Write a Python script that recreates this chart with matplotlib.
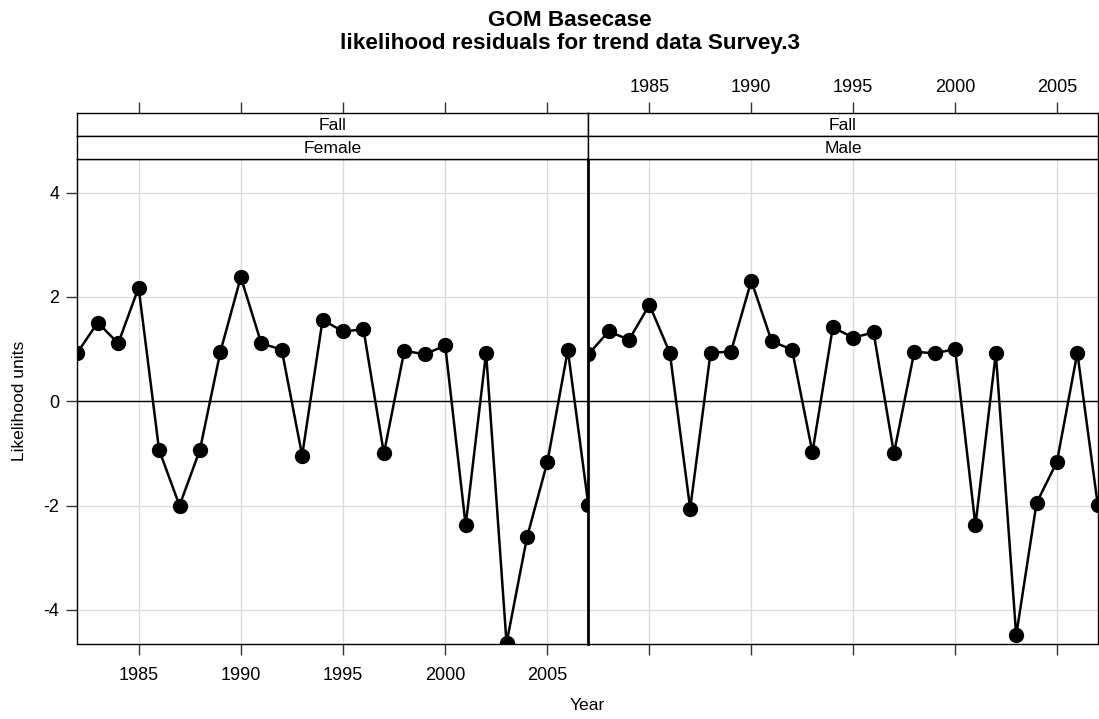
import matplotlib
matplotlib.use("Agg")
import matplotlib.pyplot as plt

plt.rcParams['font.family'] = ['Liberation Sans', 'DejaVu Sans']

years = list(range(1982, 2008))
female = [0.93, 1.51, 1.11, 2.18, -0.93, -2.00, -0.93, 0.95, 2.38, 1.11, 0.99, -1.04, 1.56,
          1.34, 1.38, -1.00, 0.97, 0.90, 1.07, -2.38, 0.93, -4.64, -2.61, -1.16, 0.98, -1.98]
male = [0.90, 1.34, 1.18, 1.85, 0.93, -2.06, 0.93, 0.95, 2.31, 1.15, 0.99, -0.98, 1.42,
        1.22, 1.32, -1.00, 0.95, 0.92, 1.00, -2.38, 0.92, -4.49, -1.95, -1.16, 0.93, -1.98]
panel_top = ["Fall", "Fall"]
panel_sex = ["Female", "Male"]
xticks = [1985, 1990, 1995, 2000, 2005]
yticks = [-4, -2, 0, 2, 4]

W, H = 1099, 719
fig = plt.figure(figsize=(W / 100, H / 100), dpi=100)

def fr(x0, y0, x1, y1):
    return [x0 / W, 1 - y1 / H, (x1 - x0) / W, (y1 - y0) / H]

panels = [(77.3, 588.3), (588.3, 1097.7)]
ptop, pbot = 159.3, 644.3
s1, s2 = 112.7, 135.7
grid_c = '#dcdcdc'
fs = 13
sfs = 12.6

for i, (x0, x1) in enumerate(panels):
    vals = female if i == 0 else male
    ax = fig.add_axes(fr(x0, ptop, x1, pbot))
    ax.set_xlim(1982, 2007)
    ax.set_ylim(-4.66, 4.64)
    for t in xticks:
        ax.axvline(t, color=grid_c, lw=1.0, zorder=0)
    for t in yticks:
        ax.axhline(t, color=grid_c, lw=1.0, zorder=0)
    ax.axhline(0, color='black', lw=1.0, zorder=1)
    ax.plot(years, vals, color='black', lw=1.8, marker='o', markersize=10,
            markerfacecolor='black', markeredgecolor='black', clip_on=True, zorder=3)
    ax.set_xticks(xticks)
    ax.set_yticks(yticks)
    ax.tick_params(direction='out', length=8, width=1, colors='#333333', labelcolor='black',
                   labelsize=fs)
    ax.tick_params(axis='x', pad=8)
    ax.tick_params(axis='y', pad=5)
    ax.tick_params(axis='x', top=False, labeltop=False)
    if i == 0:
        ax.tick_params(axis='x', bottom=True, labelbottom=True)
        ax.tick_params(axis='y', left=True, right=False, labelleft=True)
        ax.set_yticklabels([str(t) for t in yticks])
    else:
        ax.tick_params(axis='x', bottom=True, labelbottom=False)
        ax.tick_params(axis='y', left=False, right=False, labelleft=False)
    for sp in ax.spines.values():
        sp.set_color('black')
        sp.set_linewidth(1.0)
    ax.spines['left'].set_linewidth(1.0 if i == 0 else 2.0)

    for k, (ya, yb, txt) in enumerate([(s1, s2, panel_top[i]), (s2, ptop, panel_sex[i])]):
        sax = fig.add_axes(fr(x0, ya, x1, yb))
        sax.set_xlim(1982, 2007)
        sax.set_yticks([])
        if k == 0:
            sax.set_xticks(xticks)
            sax.tick_params(axis='x', direction='out', length=8, width=1, colors='#333333',
                            labelcolor='black', labelsize=fs, bottom=False, labelbottom=False,
                            top=True, labeltop=(i == 1), pad=4)
        else:
            sax.set_xticks([])
        sax.set_facecolor('white')
        for sp in sax.spines.values():
            sp.set_color('black'); sp.set_linewidth(1.0)
        sax.text(0.5, 0.45, txt, ha='center', va='center', fontsize=sfs, transform=sax.transAxes)

fig.text(20 / W, 1 - 401 / H, "Likelihood units", ha='center', va='center',
         rotation=90, fontsize=sfs)
fig.text(570 / W, 1 - 20 / H, "GOM Basecase", ha='center', va='center',
         fontsize=16.2, fontweight='bold')
fig.text(570 / W, 1 - 44 / H, "likelihood residuals for trend data Survey.3", ha='center',
         va='center', fontsize=16.2, fontweight='bold')
fig.text(587 / W, 1 - 706 / H, "Year", ha='center', va='center', fontsize=sfs)

fig.savefig("out.png", dpi=100)
